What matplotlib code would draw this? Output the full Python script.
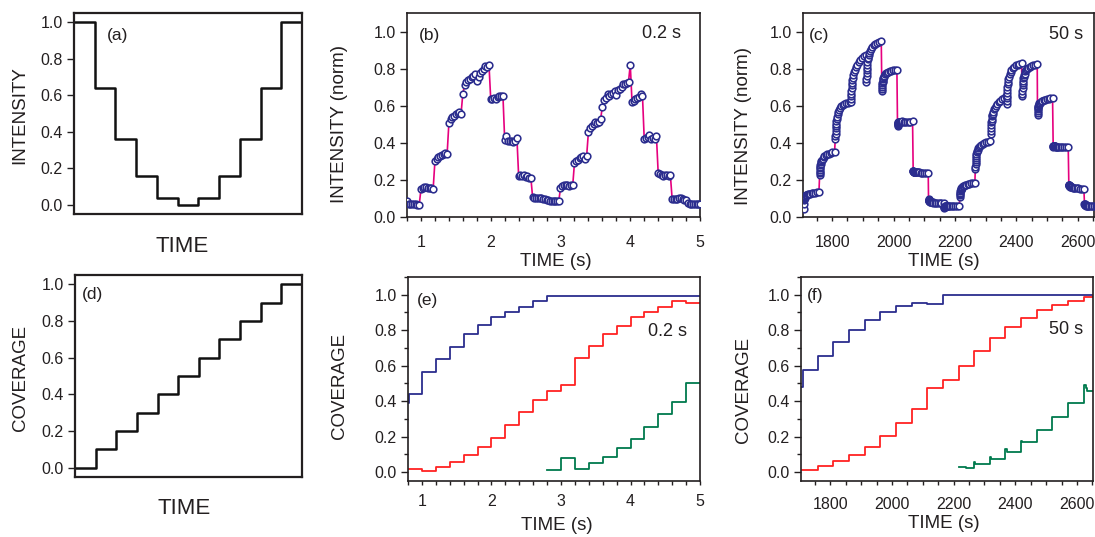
import numpy as np
import matplotlib
matplotlib.use("Agg")
import matplotlib.pyplot as plt
from matplotlib.ticker import MultipleLocator, FormatStrFormatter

plt.rcParams['font.family'] = ['Liberation Sans', 'DejaVu Sans']

# ---- data -------------------------------------------------------------
# (a) ideal intensity staircase, (d) ideal coverage staircase
a_levels = [1.0, 0.64, 0.36, 0.16, 0.04, 0.0, 0.04, 0.16, 0.36, 0.64, 1.0]
d_levels = [0.0, 0.1, 0.2, 0.3, 0.4, 0.5, 0.6, 0.7, 0.8, 0.9, 1.0]

# (b) measured intensity, 0.2 s steps, samples every 0.025 s from 0.8 s
b_start, b_dt = 0.8, 0.025
b_vals = [
    0.085, 0.070, 0.068, 0.068, 0.070, 0.068, 0.066, 0.066,
    0.150, 0.155, 0.160, 0.160, 0.158, 0.155, 0.155, 0.153,
    0.300, 0.315, 0.325, 0.330, 0.335, 0.338, 0.345, 0.340,
    0.505, 0.530, 0.540, 0.545, 0.555, 0.560, 0.565, 0.558,
    0.665, 0.710, 0.730, 0.740, 0.745, 0.755, 0.760, 0.770,
    0.735, 0.755, 0.775, 0.785, 0.800, 0.815, 0.810, 0.820,
    0.635, 0.635, 0.640, 0.635, 0.645, 0.650, 0.655, 0.655,
    0.415, 0.435, 0.410, 0.410, 0.410, 0.405, 0.410, 0.428,
    0.222, 0.225, 0.220, 0.225, 0.215, 0.220, 0.212, 0.212,
    0.108, 0.105, 0.105, 0.104, 0.102, 0.100, 0.098, 0.096,
    0.094, 0.090, 0.088, 0.088, 0.087, 0.088, 0.088, 0.086,
    0.155, 0.165, 0.170, 0.170, 0.175, 0.165, 0.170, 0.170,
    0.290, 0.300, 0.310, 0.320, 0.325, 0.330, 0.312, 0.330,
    0.458, 0.480, 0.490, 0.500, 0.510, 0.505, 0.510, 0.528,
    0.595, 0.630, 0.640, 0.665, 0.650, 0.665, 0.670, 0.680,
    0.658, 0.685, 0.690, 0.700, 0.715, 0.715, 0.720, 0.730,
    0.822, 0.620, 0.625, 0.635, 0.640, 0.645, 0.662, 0.655,
    0.420, 0.425, 0.430, 0.440, 0.420, 0.425, 0.420, 0.436,
    0.238, 0.230, 0.225, 0.220, 0.225, 0.228, 0.220, 0.225,
    0.098, 0.095, 0.095, 0.096, 0.100, 0.100, 0.095, 0.094,
    0.090, 0.076, 0.070, 0.068, 0.068, 0.068, 0.070, 0.068,
    0.070,
]

# (c) measured intensity, 50 s steps (sample offsets within each step in s)
c_step_start = [1708, 1759, 1810, 1861, 1911, 1962, 2013, 2064, 2114, 2165,
                2216, 2266, 2317, 2368, 2419, 2469, 2520, 2571, 2622]
c_offsets = [0, 0.5, 1, 1.5, 2, 2.5, 3, 4, 5, 6, 8, 10, 13, 16, 20, 25, 30, 36, 42, 49]
c_vals = [
    [0.045, 0.070, 0.090, 0.095, 0.100, 0.105, 0.110, 0.112, 0.115, 0.117,
     0.120, 0.120, 0.123, 0.125, 0.125, 0.128, 0.130, 0.131, 0.133, 0.135],
    [0.225, 0.235, 0.245, 0.255, 0.265, 0.272, 0.280, 0.288, 0.295, 0.300,
     0.307, 0.315, 0.322, 0.328, 0.333, 0.338, 0.342, 0.346, 0.349, 0.352],
    [0.420, 0.435, 0.450, 0.465, 0.480, 0.490, 0.500, 0.515, 0.530, 0.540,
     0.553, 0.565, 0.577, 0.587, 0.597, 0.605, 0.610, 0.614, 0.617, 0.620],
    [0.620, 0.635, 0.650, 0.665, 0.680, 0.695, 0.710, 0.725, 0.740, 0.750,
     0.765, 0.780, 0.795, 0.808, 0.822, 0.835, 0.848, 0.858, 0.867, 0.875],
    [0.730, 0.745, 0.760, 0.775, 0.790, 0.805, 0.820, 0.835, 0.850, 0.860,
     0.872, 0.885, 0.895, 0.905, 0.915, 0.925, 0.933, 0.940, 0.945, 0.950],
    [0.680, 0.690, 0.700, 0.710, 0.720, 0.728, 0.735, 0.743, 0.750, 0.755,
     0.762, 0.770, 0.774, 0.778, 0.782, 0.785, 0.788, 0.790, 0.792, 0.790],
    [0.490, 0.495, 0.500, 0.503, 0.505, 0.507, 0.510, 0.510, 0.510, 0.510,
     0.511, 0.512, 0.513, 0.515, 0.512, 0.510, 0.510, 0.512, 0.512, 0.515],
    [0.250, 0.248, 0.246, 0.245, 0.245, 0.245, 0.245, 0.244, 0.244, 0.243,
     0.242, 0.240, 0.240, 0.240, 0.240, 0.238, 0.238, 0.237, 0.236, 0.235],
    [0.095, 0.093, 0.090, 0.089, 0.087, 0.086, 0.085, 0.084, 0.083, 0.082,
     0.081, 0.080, 0.079, 0.078, 0.077, 0.076, 0.076, 0.075, 0.074, 0.075],
    [0.050, 0.052, 0.054, 0.055, 0.055, 0.056, 0.057, 0.057, 0.058, 0.058,
     0.058, 0.058, 0.057, 0.057, 0.058, 0.058, 0.058, 0.058, 0.059, 0.060],
    [0.110, 0.118, 0.125, 0.132, 0.140, 0.144, 0.148, 0.152, 0.155, 0.158,
     0.162, 0.165, 0.168, 0.171, 0.174, 0.177, 0.179, 0.181, 0.183, 0.185],
    [0.260, 0.272, 0.285, 0.298, 0.310, 0.320, 0.330, 0.342, 0.350, 0.356,
     0.363, 0.370, 0.377, 0.383, 0.390, 0.396, 0.400, 0.404, 0.407, 0.410],
    [0.450, 0.465, 0.480, 0.495, 0.510, 0.520, 0.530, 0.542, 0.550, 0.558,
     0.568, 0.580, 0.590, 0.600, 0.610, 0.618, 0.626, 0.634, 0.642, 0.650],
    [0.610, 0.625, 0.640, 0.655, 0.670, 0.685, 0.700, 0.718, 0.730, 0.742,
     0.755, 0.770, 0.782, 0.793, 0.803, 0.810, 0.817, 0.822, 0.826, 0.830],
    [0.650, 0.665, 0.680, 0.695, 0.710, 0.722, 0.735, 0.748, 0.755, 0.763,
     0.772, 0.785, 0.792, 0.800, 0.806, 0.810, 0.814, 0.818, 0.821, 0.825],
    [0.550, 0.560, 0.570, 0.580, 0.590, 0.595, 0.600, 0.605, 0.610, 0.613,
     0.617, 0.620, 0.624, 0.627, 0.630, 0.632, 0.635, 0.638, 0.640, 0.643],
    [0.380, 0.382, 0.385, 0.385, 0.385, 0.385, 0.384, 0.383, 0.382, 0.381,
     0.380, 0.380, 0.379, 0.378, 0.378, 0.377, 0.376, 0.376, 0.375, 0.377],
    [0.175, 0.173, 0.171, 0.170, 0.169, 0.168, 0.167, 0.165, 0.164, 0.163,
     0.162, 0.160, 0.159, 0.158, 0.157, 0.156, 0.155, 0.153, 0.152, 0.150],
    [0.070, 0.069, 0.068, 0.067, 0.066, 0.065, 0.064, 0.064, 0.063, 0.062,
     0.062, 0.061, 0.060, 0.060, 0.060, 0.059, 0.058, 0.058, 0.057, 0.057],
]

# (e) coverage, 0.2 s steps
e_blue_t = [0.8, 0.81, 1.0, 1.2, 1.4, 1.6, 1.8, 2.0, 2.2, 2.4, 2.6, 2.8, 5.0]
e_blue_v = [0.39, 0.443, 0.564, 0.64, 0.708, 0.778, 0.831, 0.873, 0.905, 0.93, 0.962, 0.995, 0.995]
e_red_t = [0.8, 1.0, 1.2, 1.4, 1.6, 1.8, 2.0, 2.2, 2.4, 2.6, 2.8,
           3.0, 3.2, 3.4, 3.6, 3.8, 4.0, 4.2, 4.4, 4.6, 4.8, 5.0]
e_red_v = [0.018, 0.004, 0.028, 0.057, 0.095, 0.14, 0.195, 0.265, 0.337, 0.405, 0.46,
           0.49, 0.646, 0.712, 0.776, 0.826, 0.873, 0.905, 0.93, 0.962, 0.956, 0.956]
e_green_t = [2.8, 3.0, 3.2, 3.4, 3.6, 3.8, 4.0, 4.2, 4.4, 4.6, 4.8, 5.0]
e_green_v = [0.012, 0.077, 0.02, 0.053, 0.088, 0.134, 0.188, 0.256, 0.325, 0.397, 0.50, 0.50]

# (f) coverage, 50 s steps
f_blue_t = [1708, 1710, 1759, 1810, 1861, 1911, 1962, 2013, 2064, 2114, 2165, 2653]
f_blue_v = [0.48, 0.575, 0.654, 0.732, 0.80, 0.858, 0.90, 0.934, 0.956, 0.947, 1.0, 1.0]
f_red_t = c_step_start + [2653]
f_red_v = [0.011, 0.036, 0.06, 0.097, 0.144, 0.205, 0.275, 0.357, 0.476, 0.522,
           0.60, 0.684, 0.755, 0.82, 0.87, 0.915, 0.94, 0.966, 0.985, 1.0]
f_green_t = [2216, 2240, 2266, 2270, 2317, 2321, 2368, 2372, 2419, 2423,
             2469, 2520, 2571, 2622, 2630, 2634, 2653]
f_green_v = [0.03, 0.022, 0.057, 0.045, 0.088, 0.074, 0.128, 0.115, 0.178, 0.167,
             0.236, 0.31, 0.39, 0.49, 0.475, 0.46, 0.46]

# ---- style ------------------------------------------------------------
TXT = '#231f20'
NAVY = '#2b2d8e'
PINK = '#e6007e'
RED = '#ff2222'
GREEN = '#007a4d'
TICK_FS = 11.5
LAB_FS = 13.5

fig = plt.figure(figsize=(10.95, 5.37), dpi=100)


def make_axes(rect, spine_w=1.2, xpad=7):
    ax = fig.add_axes(rect)
    for s in ax.spines.values():
        s.set_linewidth(spine_w)
        s.set_color(TXT)
    ax.tick_params(direction='out', width=1, colors=TXT,
                   labelsize=TICK_FS, labelcolor=TXT)
    ax.tick_params(axis='y', which='major', length=5, pad=3)
    ax.tick_params(axis='x', which='major', length=3.2, pad=xpad)
    ax.tick_params(which='minor', direction='out', length=3, width=1, colors=TXT)
    ax.yaxis.set_major_locator(MultipleLocator(0.2))
    ax.yaxis.set_major_formatter(FormatStrFormatter('%.1f'))
    return ax


def label(ax, x, y, s, size, rot=0):
    ax.text(x, y, s, transform=ax.transAxes, ha='center', va='center',
            fontsize=size, color=TXT, rotation=rot)


# (a)
ax = make_axes([0.0676, 0.6015, 0.2082, 0.3743], spine_w=1.6)
ax.step(np.arange(len(a_levels) + 1), a_levels + [a_levels[-1]], where='post',
        color='#111111', lw=1.8)
ax.set_xlim(0, len(a_levels))
ax.set_ylim(-0.05, 1.05)
ax.set_xticks([])
label(ax, -0.237, 0.49, 'INTENSITY', LAB_FS, rot=90)
label(ax, 0.476, -0.164, 'TIME', 16)
label(ax, 0.189, 0.888, '(a)', 12.5)

# (b)
ax = make_axes([0.3717, 0.5959, 0.2676, 0.3799], xpad=9.5)
b_time = b_start + b_dt * np.arange(len(b_vals))
ax.plot(b_time, b_vals, color=PINK, lw=1.2, zorder=2)
ax.plot(b_time, b_vals, 'o', ms=4.8, mfc='white', mec=NAVY, mew=1.15, zorder=3)
ax.set_xlim(0.8, 5.0)
ax.set_ylim(0, 1.1)
ax.xaxis.set_major_locator(MultipleLocator(1))
ax.xaxis.set_minor_locator(MultipleLocator(0.2))
label(ax, -0.229, 0.455, 'INTENSITY (norm)', LAB_FS, rot=90)
label(ax, 0.508, -0.216, 'TIME (s)', LAB_FS)
label(ax, 0.077, 0.89, '(b)', 12.5)
label(ax, 0.867, 0.9, '0.2 s', 13)

# (c)
ax = make_axes([0.7333, 0.5959, 0.2658, 0.3799], xpad=9.5)
c_time = np.concatenate([np.add(t0, c_offsets) for t0 in c_step_start])
c_flat = np.concatenate(c_vals)
ax.plot(c_time, c_flat, color=PINK, lw=1.2, zorder=2)
ax.plot(c_time, c_flat, 'o', ms=4.8, mfc='white', mec=NAVY, mew=1.15, zorder=3)
ax.set_xlim(1705, 2653)
ax.set_ylim(0, 1.1)
ax.xaxis.set_major_locator(MultipleLocator(200))
ax.xaxis.set_minor_locator(MultipleLocator(50))
label(ax, -0.206, 0.445, 'INTENSITY (norm)', LAB_FS, rot=90)
label(ax, 0.485, -0.216, 'TIME (s)', LAB_FS)
label(ax, 0.057, 0.892, '(c)', 12.5)
label(ax, 0.904, 0.895, '50 s', 13)

# (d)
ax = make_axes([0.0685, 0.1117, 0.2073, 0.3762], spine_w=1.6)
ax.step(np.arange(len(d_levels) + 1), d_levels + [d_levels[-1]], where='post',
        color='#111111', lw=1.8)
ax.set_xlim(0, len(d_levels))
ax.set_ylim(-0.05, 1.05)
ax.set_xticks([])
label(ax, -0.242, 0.49, 'COVERAGE', LAB_FS, rot=90)
label(ax, 0.48, -0.158, 'TIME', 16)
label(ax, 0.077, 0.903, '(d)', 12.5)

# (e)
ax = make_axes([0.3726, 0.1043, 0.2667, 0.3799], xpad=6)
ax.step(e_blue_t, e_blue_v, where='post', color=NAVY, lw=1.3)
ax.step(e_red_t, e_red_v, where='post', color=RED, lw=1.3)
ax.step(e_green_t, e_green_v, where='post', color=GREEN, lw=1.3)
ax.set_xlim(0.8, 5.0)
ax.set_ylim(-0.05, 1.1)
ax.xaxis.set_major_locator(MultipleLocator(1))
ax.xaxis.set_minor_locator(MultipleLocator(0.2))
ax.yaxis.set_minor_locator(MultipleLocator(0.1))
label(ax, -0.233, 0.467, 'COVERAGE', LAB_FS, rot=90)
label(ax, 0.509, -0.216, 'TIME (s)', LAB_FS)
label(ax, 0.068, 0.887, '(e)', 12.5)
label(ax, 0.889, 0.733, '0.2 s', 13)

# (f)
ax = make_axes([0.7315, 0.1043, 0.2667, 0.3799], xpad=8)
ax.step(f_blue_t, f_blue_v, where='post', color=NAVY, lw=1.3)
ax.step(f_red_t, f_red_v, where='post', color=RED, lw=1.3)
ax.step(f_green_t, f_green_v, where='post', color=GREEN, lw=1.3)
ax.set_xlim(1705, 2652)
ax.set_ylim(-0.05, 1.1)
ax.xaxis.set_major_locator(MultipleLocator(200))
ax.xaxis.set_minor_locator(MultipleLocator(50))
ax.yaxis.set_minor_locator(MultipleLocator(0.1))
label(ax, -0.197, 0.446, 'COVERAGE', LAB_FS, rot=90)
label(ax, 0.49, -0.21, 'TIME (s)', LAB_FS)
label(ax, 0.05, 0.909, '(f)', 12.5)
label(ax, 0.906, 0.743, '50 s', 13)

fig.savefig('out.png', dpi=100, facecolor='white')
